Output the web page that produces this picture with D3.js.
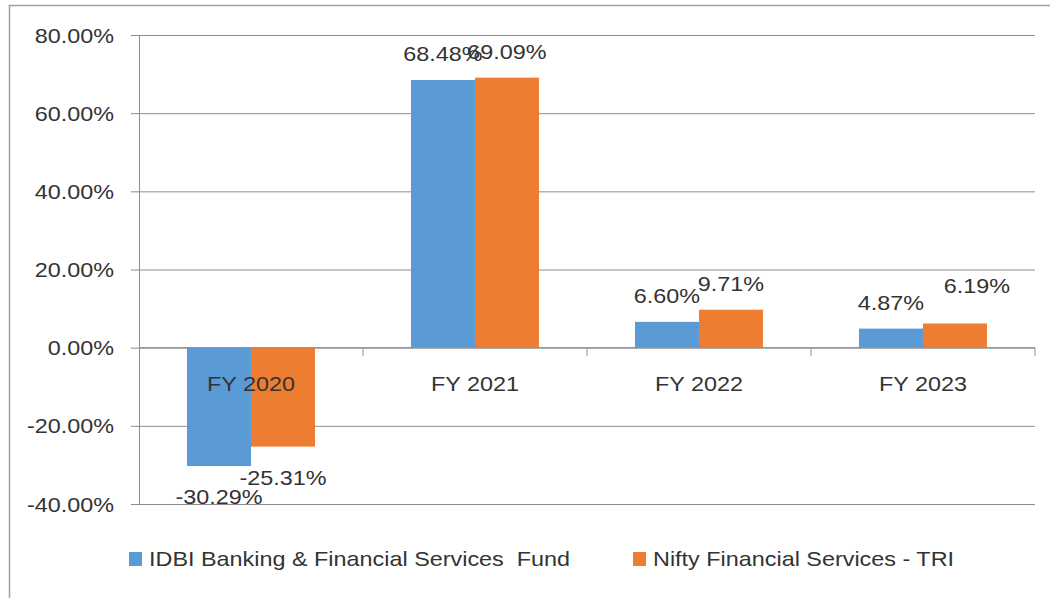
<!DOCTYPE html>
<html lang="en">
<head>
	<meta charset="UTF-8"/>
	<title>FY returns bar chart</title>
	<script src="https://d3js.org/d3.v7.min.js"></script>
	<style>
		body{ margin:0; background:#fff; }
		text{ font-family: "Liberation Sans", Arial, sans-serif; font-size:20px; fill:#333; }
	</style>
</head>
<body>
	<script>
	// data
	var categories = ["FY 2020", "FY 2021", "FY 2022", "FY 2023"];
	var seriesNames = ["IDBI Banking & Financial Services  Fund", "Nifty Financial Services - TRI"];
	var idbiFund = [-30.29, 68.48, 6.60, 4.87];
	var niftyTri = [-25.31, 69.09, 9.71, 6.19];
	var yTicks = [-40, -20, 0, 20, 40, 60, 80];

	var colors = ["#5b9bd5", "#ed7d31"];
	// hand placed label tweaks (dx, dy) per series / category
	var labelNudge = [
		[[0,0],[0,0],[0,0],[0,0]],
		[[0,0],[0,0],[0,0],[22,-11]]
	];

	var w = 1050;
	var h = 598;
	var sx = 1.17; // text horizontally stretched in the original

	var svg = d3.select("body")
				.append("svg")
				.attr("width", w)
				.attr("height", h);

	// outer frame (only top and left are visible)
	svg.append("path")
		.attr("d", "M9.5,598V5.5H1050")
		.attr("fill", "none")
		.attr("stroke", "#a0a0a0")
		.attr("stroke-width", 1.5);

	var y = d3.scaleLinear()
				.domain([-40, 80])
				.range([504, 35]);
	var x0 = d3.scaleBand()
				.domain(categories)
				.range([139, 1035]);
	var x1 = d3.scaleBand()
				.domain([0, 1])
				.range([0, x0.bandwidth()])
				.paddingOuter(0.75);

	// plain hyphen for negatives, like the original
	function fmt(v){ return (+v).toFixed(2) + "%"; }

	// y axis with gridlines
	var yAxis = svg.append("g")
		.attr("transform", "translate(139,0)")
		.call(d3.axisLeft(y).tickValues(yTicks).tickSize(8).tickFormat(fmt));
	yAxis.select(".domain").attr("stroke", "#8c8c8c");
	yAxis.selectAll(".tick line").attr("stroke", "#8c8c8c");
	yAxis.selectAll(".tick").append("line")
		.attr("x1", 0).attr("x2", 1035 - 139)
		.attr("stroke", "#8c8c8c");
	yAxis.selectAll(".tick text")
		.attr("x", 0).attr("dy", null).attr("y", 7)
		.attr("transform", "translate(-25,0) scale(" + sx + ",1)")
		.attr("text-anchor", "end")
		.attr("fill", "#333");
	yAxis.attr("font-family", null).attr("font-size", null);

	// category axis at zero
	var xAxis = svg.append("g");
	xAxis.append("line")
		.attr("x1", 139).attr("x2", 1035)
		.attr("y1", y(0)).attr("y2", y(0))
		.attr("stroke", "#8c8c8c");
	xAxis.selectAll(".xt")
		.data(categories)
		.enter()
		.append("line")
		.attr("x1", function(d){ return x0(d) + x0.bandwidth(); })
		.attr("x2", function(d){ return x0(d) + x0.bandwidth(); })
		.attr("y1", y(0)).attr("y2", y(0) + 8)
		.attr("stroke", "#8c8c8c");

	// bars
	var series = [idbiFund, niftyTri];
	series.forEach(function(vals, s){
		svg.selectAll(".bar" + s)
			.data(vals)
			.enter()
			.append("rect")
			.attr("x", function(d, i){ return x0(categories[i]) + x1(s); })
			.attr("width", x1.bandwidth())
			.attr("y", function(d){ return y(Math.max(0, d)); })
			.attr("height", function(d){ return Math.abs(y(d) - y(0)); })
			.attr("fill", colors[s]);
	});

	// category labels
	svg.selectAll(".cat")
		.data(categories)
		.enter()
		.append("text")
		.attr("text-anchor", "middle")
		.attr("transform", function(d){
			return "translate(" + (x0(d) + x0.bandwidth()/2) + "," + (y(0) + 43) + ") scale(" + sx + ",1)";
		})
		.text(function(d){ return d; });

	// value labels
	series.forEach(function(vals, s){
		svg.selectAll(".lab" + s)
			.data(vals)
			.enter()
			.append("text")
			.attr("text-anchor", "middle")
			.attr("transform", function(d, i){
				var cx = x0(categories[i]) + x1(s) + x1.bandwidth()/2 + labelNudge[s][i][0];
				var ty = d >= 0 ? y(d) - 19 : y(d) + 38;
				return "translate(" + cx + "," + (ty + labelNudge[s][i][1]) + ") scale(" + sx + ",1)";
			})
			.text(function(d){ return fmt(d); });
	});

	// legend
	var legendX = [129, 633];
	var legend = svg.selectAll(".leg")
		.data(seriesNames)
		.enter()
		.append("g")
		.attr("transform", function(d, i){ return "translate(" + legendX[i] + ",552)"; });
	legend.append("rect")
		.attr("width", 13).attr("height", 14)
		.attr("fill", function(d, i){ return colors[i]; });
	legend.append("text")
		.attr("transform", "translate(20,14) scale(" + sx + ",1)")
		.style("white-space", "pre")
		.text(function(d){ return d; });
	</script>
</body>
</html>
